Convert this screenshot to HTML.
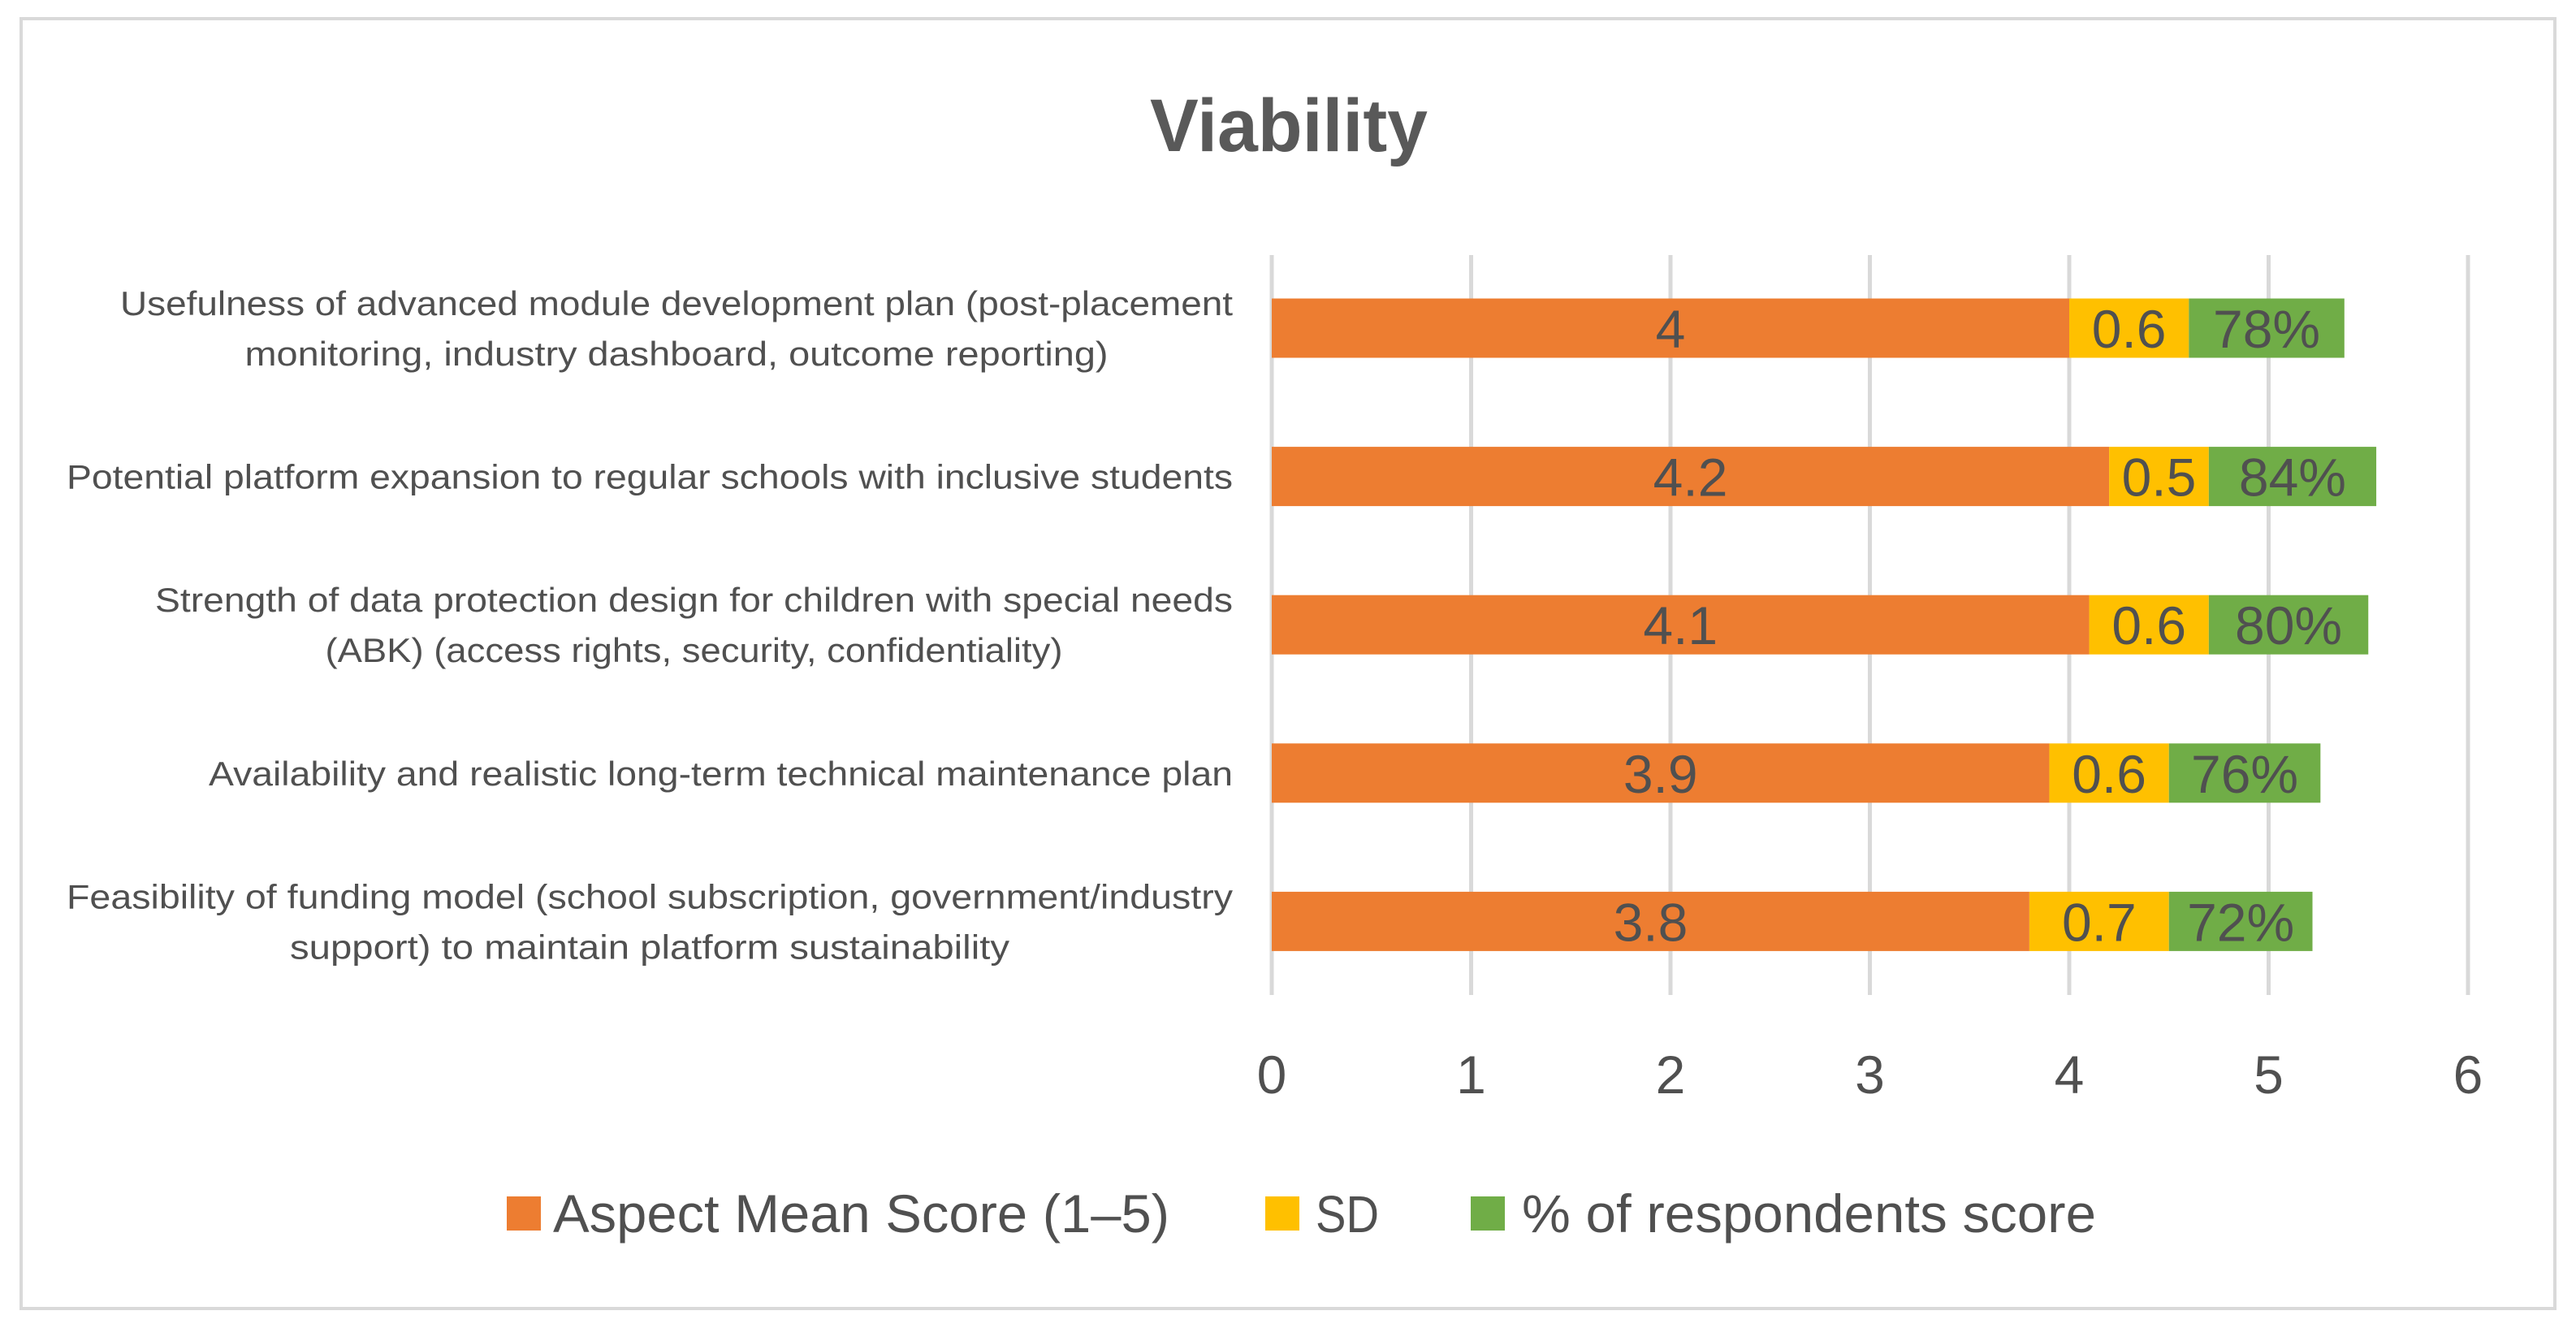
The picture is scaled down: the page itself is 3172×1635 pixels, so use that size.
<!DOCTYPE html>
<html><head><meta charset="utf-8"><style>
html,body{margin:0;padding:0;background:#fff;}
svg{display:block;}
text{font-family:"Liberation Sans",sans-serif;fill:#505050;}
</style></head>
<body>
<svg id="chart" width="3172" height="1635" viewBox="0 0 3172 1635" xmlns="http://www.w3.org/2000/svg">
<rect x="26" y="23" width="3120" height="1588" fill="#fff" stroke="#d9d9d9" stroke-width="4"/>
<text x="1587" y="186" text-anchor="middle" font-size="92" font-weight="bold" textLength="342" lengthAdjust="spacingAndGlyphs" style="fill:#595959">Viability</text>
<g id="grid"></g>
<g id="bars"></g>
<g id="cats"></g>
<g id="ticks"></g>
<g id="legend">
  <rect x="624" y="1473" width="42" height="42" fill="#ED7D31"/>
  <text x="681" y="1517" font-size="66" textLength="759" lengthAdjust="spacingAndGlyphs">Aspect Mean Score (1–5)</text>
  <rect x="1558" y="1473" width="42" height="42" fill="#FFC000"/>
  <text x="1620" y="1517" font-size="64" textLength="78" lengthAdjust="spacingAndGlyphs">SD</text>
  <rect x="1811" y="1473" width="42" height="42" fill="#70AD47"/>
  <text x="1874" y="1517" font-size="66" textLength="707" lengthAdjust="spacingAndGlyphs">% of respondents score</text>
</g>
</svg>
<script>
const categories = [
  ["Usefulness of advanced module development plan (post-placement","monitoring, industry dashboard, outcome reporting)"],
  ["Potential platform expansion to regular schools with inclusive students"],
  ["Strength of data protection design for children with special needs","(ABK) (access rights, security, confidentiality)"],
  ["Availability and realistic long-term technical maintenance plan"],
  ["Feasibility of funding model (school subscription, government/industry","support) to maintain platform sustainability"]
];
const labelWidths = [[1370,1063],[1436],[1327,908],[1261],[1436,886]];
const meanScores = [4, 4.2, 4.1, 3.9, 3.8];
const sdValues = [0.6, 0.5, 0.6, 0.6, 0.7];
const pctValues = [78, 84, 80, 76, 72];
const xTicks = [0,1,2,3,4,5,6];

const NS = "http://www.w3.org/2000/svg";
const x0 = 1566, unit = 245.5;
const plotTop = 314, plotBottom = 1225;
const firstCenter = 404, step = 182.6, barH = 73;
function xs(v){ return x0 + v*unit; }
function yc(i){ return firstCenter + i*step; }
function mk(tag, attrs, parent){
  const e = document.createElementNS(NS, tag);
  for (const k in attrs) e.setAttribute(k, attrs[k]);
  parent.appendChild(e);
  return e;
}
const grid = document.getElementById('grid');
const ticks = document.getElementById('ticks');
xTicks.forEach(t => {
  const l = mk('line', {x1: xs(t), x2: xs(t), y1: plotTop, y2: plotBottom, stroke: '#d9d9d9', 'stroke-width': 5}, grid);
  
  
  const tx = mk('text', {x: xs(t), y: 1346, 'font-size': 66, 'text-anchor': 'middle'}, ticks);
  tx.textContent = t;
  
  
});
const bars = document.getElementById('bars');
const cats = document.getElementById('cats');
categories.forEach((lines, i) => {
  const c = yc(i), top = c - barH/2;
  const m = meanScores[i], s = sdValues[i], p = pctValues[i]/100;
  const segs = [
    {a: 0, b: m, col: '#ED7D31', lab: String(m), nm: 'mean'},
    {a: m, b: m + s, col: '#FFC000', lab: String(s), nm: 'sd'},
    {a: m + s, b: m + s + p, col: '#70AD47', lab: pctValues[i] + '%', nm: 'pct'}
  ];
  segs.forEach(sg => {
    const r = mk('rect', {x: xs(sg.a), y: top, width: xs(sg.b) - xs(sg.a), height: barH, fill: sg.col}, bars);
    
    
    const t = mk('text', {x: (xs(sg.a) + xs(sg.b))/2, y: c + 24, 'font-size': 66, 'text-anchor': 'middle'}, bars);
    t.textContent = sg.lab;
    
    
  });
  const w = labelWidths[i];
  const maxW = Math.max.apply(null, w);
  const cx = 1518 - maxW/2;
  lines.forEach((ln, j) => {
    const off = lines.length === 1 ? 0 : (j === 0 ? -31 : 31);
    const t = mk('text', {x: cx, y: c + off + 15, 'font-size': 42, 'text-anchor': 'middle', textLength: w[j], lengthAdjust: 'spacingAndGlyphs'}, cats);
    t.textContent = ln;
    
    
  });
});
</script>
</body></html>
